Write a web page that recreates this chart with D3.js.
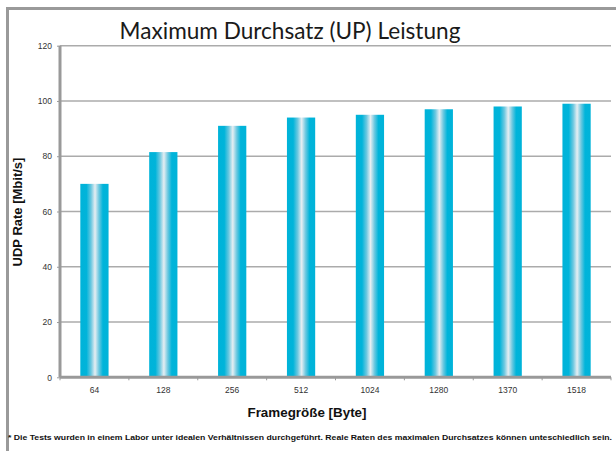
<!DOCTYPE html>
<html><head><meta charset="utf-8">
<script src="https://cdn.jsdelivr.net/npm/d3@7"></script>
<style>body{margin:0;background:#fff;}svg{display:block;}</style>
</head><body>
<svg id="c" width="616" height="451"></svg>
<script>
const categories = ["64","128","256","512","1024","1280","1370","1518"];
const values = [70, 81.5, 91, 94, 95, 97, 98, 99];
const yTicks = [0,20,40,60,80,100,120];
const title = "Maximum Durchsatz (UP) Leistung";
const yLabel = "UDP Rate [Mbit/s]";
const xLabel = "Framegröße [Byte]";
const footnote = "* Die Tests wurden in einem Labor unter idealen Verhältnissen durchgeführt. Reale Raten des maximalen Durchsatzes können unteschiedlich sein.";

const FONT = "'Liberation Sans', Arial, sans-serif";
const svg = d3.select("#c");
const m = {left:60, right:611, top:45.7, bottom:377.3};

// frame
svg.append("path").attr("d","M7.5,460 V8.5 H620").attr("fill","none").attr("stroke","#9a9a9a").attr("stroke-width",3);

const x = d3.scaleBand().domain(categories).range([m.left, m.right]).paddingInner(0.59).paddingOuter(0.295);
const y = d3.scaleLinear().domain([0,120]).range([m.bottom, m.top]);

const defs = svg.append("defs");
const g = defs.append("linearGradient").attr("id","bg").attr("x1","0").attr("x2","1").attr("y1","0").attr("y2","0");
[[0,"#00b3d9"],[0.22,"#00b4da"],[0.38,"#6cc8e0"],[0.52,"#e6eef2"],[0.66,"#6cc8e0"],[0.8,"#00b4da"],[1,"#00b3d9"]]
  .forEach(([o,c])=>g.append("stop").attr("offset",o).attr("stop-color",c));

// gridlines
svg.append("g").selectAll("line").data(yTicks.filter(d=>d>0)).join("line")
  .attr("x1",m.left).attr("x2",m.right).attr("y1",d=>y(d)).attr("y2",d=>y(d))
  .attr("stroke","#ababab").attr("stroke-width",1.6);

// bars
svg.append("g").selectAll("rect").data(values).join("rect")
  .attr("x",(d,i)=>x(categories[i])).attr("width",x.bandwidth())
  .attr("y",d=>y(d)).attr("height",d=>y(0)-y(d)).attr("fill","url(#bg)");

// y axis
const ya = svg.append("g").attr("transform",`translate(${m.left},0)`)
  .call(d3.axisLeft(y).tickValues(yTicks).tickSize(3).tickPadding(5));
ya.attr("font-family",FONT).attr("font-size",8.5);
ya.select(".domain").attr("stroke","#999").attr("stroke-width",3).attr("d",`M0,${m.top}V${m.bottom}`);
ya.selectAll(".tick line").attr("stroke","#999").attr("stroke-width",1);
ya.selectAll("text").style("font-family",FONT).attr("font-size",8.5).attr("fill","#333");

// x axis
const step = x.step();
const xa = svg.append("g").attr("transform",`translate(0,${m.bottom})`)
  .call(d3.axisBottom(x).tickSize(0).tickPadding(10));
xa.attr("font-family",FONT).attr("font-size",8.5);
xa.select(".domain").attr("stroke","#999").attr("stroke-width",3).attr("d",`M${m.left},0H${m.right}`);
xa.selectAll("text").style("font-family",FONT).attr("font-size",8.5).attr("fill","#333");
svg.append("g").selectAll("line").data(d3.range(categories.length+1)).join("line")
  .attr("x1",i=>m.left+i*step).attr("x2",i=>m.left+i*step)
  .attr("y1",m.bottom).attr("y2",m.bottom+3).attr("stroke","#999").attr("stroke-width",1);

// title
svg.append("text").attr("x",290).attr("y",39).attr("text-anchor","middle")
  .style("font-family","Lato, sans-serif").attr("font-size",22.6).attr("fill","#1a1a1a").text(title);

// axis labels
svg.append("text").attr("transform","translate(22,212) rotate(-90)").attr("text-anchor","middle")
  .style("font-family",FONT).attr("font-weight","bold").attr("font-size",13).attr("fill","#111").text(yLabel);
svg.append("text").attr("x",307).attr("y",417).attr("text-anchor","middle")
  .style("font-family",FONT).attr("font-weight","bold").attr("font-size",13.4).attr("fill","#111").text(xLabel);

svg.append("text").attr("x",8).attr("y",440).attr("textLength",604).attr("lengthAdjust","spacingAndGlyphs")
  .style("font-family",FONT).attr("font-weight","bold").attr("font-size",7).attr("fill","#111").text(footnote);
</script>
</body></html>
